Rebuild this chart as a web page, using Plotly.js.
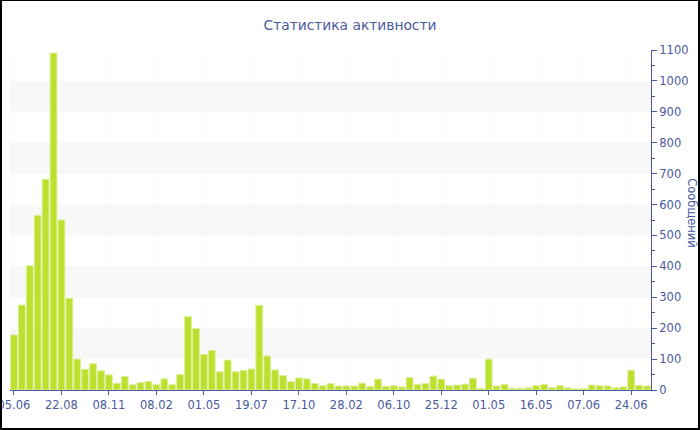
<!DOCTYPE html>
<html>
<head>
<meta charset="utf-8">
<script src="https://cdn.plot.ly/plotly-3.0.1.min.js"></script>
<style>
  html, body { margin: 0; padding: 0; background: #fff; }
  #wrap { position: relative; width: 700px; height: 430px; overflow: hidden; }
  #chart { position: absolute; left: 0; top: 0; width: 700px; height: 430px; }
  #frame { position: absolute; left: 0; top: 0; width: 700px; height: 430px; box-sizing: border-box;
           border-style: solid; border-color: #000; border-width: 1px 2px 2px 2px; pointer-events: none; }
</style>
</head>
<body>
<div id="wrap"><div id="chart"></div><div id="frame"></div></div>
<script>
// Messages per period
const messages = [178, 275, 402, 565, 682, 1090, 550, 297, 100, 67,
                  85, 62, 49, 22, 44, 17, 24, 28, 17, 36,
                  17, 50, 237, 199, 115, 128, 59, 97, 59, 63,
                  68, 274, 110, 65, 47, 27, 39, 36, 21, 14,
                  21, 13, 13, 13, 22, 11, 35, 12, 14, 10,
                  40, 18, 21, 45, 35, 14, 16, 19, 38, 5,
                  100, 13, 18, 6, 6, 7, 14, 18, 8, 14,
                  7, 4, 4, 16, 14, 13, 7, 10, 64, 15, 13];
// Tick labels shown under every 6th bar
const tickLabels = ["05.06", "22.08", "08.11", "08.02", "01.05", "19.07", "17.10",
                    "28.02", "06.10", "25.12", "01.05", "16.05", "07.06", "24.06"];
const tickStep = 6;
const chartTitle = "Статистика активности";
const yTitle = "Сообщений";

const barIndex = messages.map((_, i) => i);
const tickPositions = tickLabels.map((_, i) => i * tickStep);

const axisColor = "#4a5a9e";
const textColor = "#4a5a9e";
const font = "DejaVu Sans, Verdana, sans-serif";

const bands = [];
for (let v = 100; v < 1100; v += 200) {
  bands.push({type: "rect", xref: "paper", yref: "y", x0: 0, x1: 1, y0: v, y1: v + 100,
              fillcolor: "#f8f8f8", line: {width: 0}, layer: "below"});
}

const trace = {
  type: "bar",
  x: barIndex,
  y: messages,
  marker: {color: "#bde02f", line: {color: "#dcef98", width: 1}},
  hoverinfo: "y"
};

const layout = {
  width: 700, height: 430,
  margin: {l: 10, r: 49, t: 50, b: 40},
  paper_bgcolor: "#ffffff", plot_bgcolor: "#ffffff",
  bargap: 0.14,
  showlegend: false,
  font: {family: font, color: textColor, size: 11.5},
  title: {text: chartTitle, x: 0.5, xanchor: "center", y: 0.942, yanchor: "middle",
          font: {family: font, size: 13.8, color: textColor}},
  xaxis: {
    range: [-0.5, messages.length - 0.5],
    tickmode: "array", tickvals: tickPositions, ticktext: tickLabels,
    ticks: "outside", ticklen: 4, tickcolor: axisColor, tickwidth: 1,
    ticklabeloverflow: "allow",
    showline: true, linecolor: axisColor, linewidth: 1,
    showgrid: true, gridcolor: "rgba(0,0,0,0.02)", zeroline: false,
    automargin: false,
    tickfont: {family: font, size: 11.5, color: textColor}
  },
  yaxis: {
    side: "right", range: [0, 1100], dtick: 100, tick0: 0,
    ticks: "outside", ticklen: 5, tickcolor: axisColor,
    minor: {dtick: 50, ticks: "outside", ticklen: 3, tickcolor: axisColor, showgrid: false},
    showline: true, linecolor: axisColor, linewidth: 1,
    showgrid: false, zeroline: false, automargin: false,
    tickfont: {family: font, size: 11.5, color: textColor}
  },
  shapes: bands,
  annotations: [{
    text: yTitle, textangle: 90, showarrow: false,
    xref: "paper", yref: "paper", x: 1, xshift: 41, y: 0.52, xanchor: "center", yanchor: "middle",
    font: {family: font, size: 11.5, color: textColor}
  }]
};

Plotly.newPlot("chart", [trace], layout, {displayModeBar: false, staticPlot: true});
</script>
</body>
</html>
